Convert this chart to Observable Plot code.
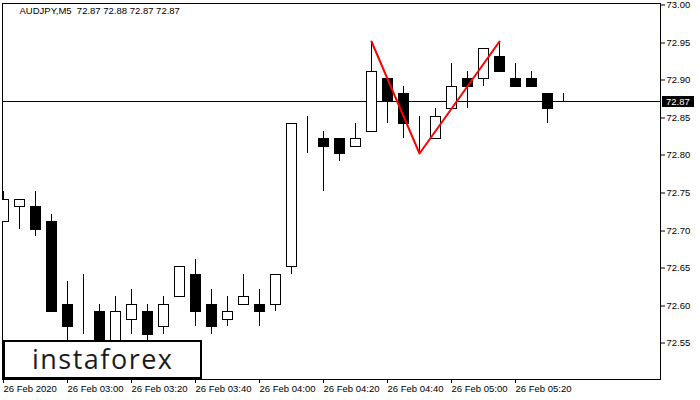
<!DOCTYPE html>
<html>
<head>
<meta charset="utf-8">
<script src="https://cdn.jsdelivr.net/npm/d3@7"></script>
<script src="https://cdn.jsdelivr.net/npm/@observablehq/plot@0.6"></script>
<style>
html, body { margin: 0; padding: 0; background: #fff; }
#chart { width: 700px; height: 400px; overflow: hidden; }
svg text { white-space: pre; }
</style>
</head>
<body>
<div id="chart"></div>
<script>
// ---- data (AUDJPY, M5) ----
const symbol = "AUDJPY,M5";
const opens  = [72.71,72.73,72.73,72.71,72.60,72.58,72.59,72.54,72.58,72.59,72.57,72.61,72.64,72.60,72.58,72.60,72.60,72.60,72.65,72.83,72.82,72.82,72.81,72.83,72.90,72.88,72.83,72.82,72.86,72.90,72.90,72.93,72.90,72.90,72.88,72.87];
const highs  = [72.75,72.74,72.75,72.72,72.63,72.64,72.60,72.61,72.62,72.60,72.61,72.65,72.66,72.62,72.61,72.64,72.62,72.64,72.84,72.85,72.83,72.82,72.84,72.95,72.90,72.89,72.85,72.86,72.92,72.91,72.94,72.95,72.92,72.91,72.88,72.88];
const lows   = [72.71,72.70,72.69,72.59,72.54,72.56,72.52,72.53,72.56,72.54,72.56,72.61,72.57,72.56,72.57,72.60,72.57,72.59,72.64,72.80,72.75,72.79,72.81,72.83,72.84,72.82,72.80,72.82,72.86,72.86,72.89,72.91,72.89,72.89,72.84,72.87];
const closes = [72.74,72.74,72.70,72.59,72.57,72.58,72.53,72.59,72.60,72.56,72.60,72.65,72.59,72.57,72.59,72.61,72.59,72.64,72.84,72.83,72.81,72.80,72.82,72.91,72.87,72.84,72.83,72.85,72.89,72.89,72.94,72.91,72.89,72.89,72.86,72.87];
const timeTickIndex  = [0, 4, 8, 12, 16, 20, 24, 28, 32];
const timeTickLabels = ["26 Feb 2020","26 Feb 03:00","26 Feb 03:20","26 Feb 03:40","26 Feb 04:00","26 Feb 04:20","26 Feb 04:40","26 Feb 05:00","26 Feb 05:20"];
const priceTicks = [72.55, 72.60, 72.65, 72.70, 72.75, 72.80, 72.85, 72.90, 72.95, 73.00];
const patternIndex = [23, 26, 31];
const patternSide  = ["high", "low", "high"];
const brand = "instaforex";

// ---- derived tables ----
const candles = opens.map((o, i) => ({i, o, h: highs[i], l: lows[i], c: closes[i]}));
const last = candles[candles.length - 1];
const pattern = patternIndex.map((i, k) => ({i, v: patternSide[k] === "high" ? highs[i] : lows[i]}));
const title = `${symbol}  ${last.o.toFixed(2)} ${last.h.toFixed(2)} ${last.l.toFixed(2)} ${last.c.toFixed(2)}`;
const FONT = "'Liberation Sans', Arial, sans-serif";

const plot = Plot.plot({
  width: 700,
  height: 400,
  marginLeft: 2,
  marginRight: 40,
  marginTop: 3,
  marginBottom: 21,
  style: {fontFamily: FONT, fontSize: "9.5px", color: "#000", background: "#fff"},
  x: {type: "linear", domain: [-0.0625, 41.0625], round: true, label: null},
  y: {type: "linear", domain: [72.50, 73.00], round: true, label: null},
  marks: [
    Plot.frame({stroke: "#000"}),
    Plot.ruleY([last.c], {stroke: "#000"}),
    Plot.ruleX(candles, {x: "i", y1: "l", y2: "h", stroke: "#000", clip: true}),
    Plot.rect(candles, {
      x1: d => d.i - 0.3125, x2: d => d.i + 0.3125,
      y1: "o", y2: "c",
      fill: d => d.c > d.o ? "#ffffff" : "#000000",
      stroke: "#000", clip: true, shapeRendering: "crispEdges"
    }),
    Plot.line(pattern, {x: "i", y: "v", stroke: "#ff0000", strokeWidth: 2}),
    Plot.axisX(timeTickIndex, {
      anchor: "bottom", tickSize: 4, tickPadding: 2, textAnchor: "start", label: null,
      tickFormat: d => timeTickLabels[timeTickIndex.indexOf(d)], fill: "#000"
    }),
    Plot.axisY(priceTicks, {
      anchor: "right", tickSize: 4, tickPadding: 2, dy: 1.5, label: null,
      tickFormat: d => d.toFixed(2), fill: "#000"
    }),
    Plot.text([title], {frameAnchor: "top-left", dx: 17, dy: 4, textAnchor: "start", lineAnchor: "top", fill: "#000"})
  ]
});

document.getElementById("chart").appendChild(plot);

// current price label on the price axis
const svg = d3.select(plot);
const yPrice = plot.scale("y").apply(last.c);
const g = svg.append("g").attr("text-anchor", "start");
g.append("rect").attr("x", 662).attr("y", yPrice - 5).attr("width", 32).attr("height", 11).attr("fill", "#000");
g.append("text").attr("x", 666).attr("y", yPrice + 0.5).attr("dy", "0.32em")
  .attr("fill", "#fff").attr("font-family", FONT).attr("font-size", "9.5px").text(last.c.toFixed(2));

// brand box (bottom-left)
const logo = svg.append("g").attr("text-anchor", "start");
logo.append("rect").attr("x", 4).attr("y", 341).attr("width", 197).attr("height", 37)
  .attr("fill", "#fff").attr("stroke", "#000").attr("stroke-width", 2);
logo.append("text").attr("x", 32).attr("y", 369)
  .attr("font-family", "'Open Sans', 'DejaVu Sans', sans-serif").attr("font-size", "27px")
  .attr("fill", "#1a1a1a").attr("textLength", 140).attr("lengthAdjust", "spacing").text(brand);
</script>
</body>
</html>
